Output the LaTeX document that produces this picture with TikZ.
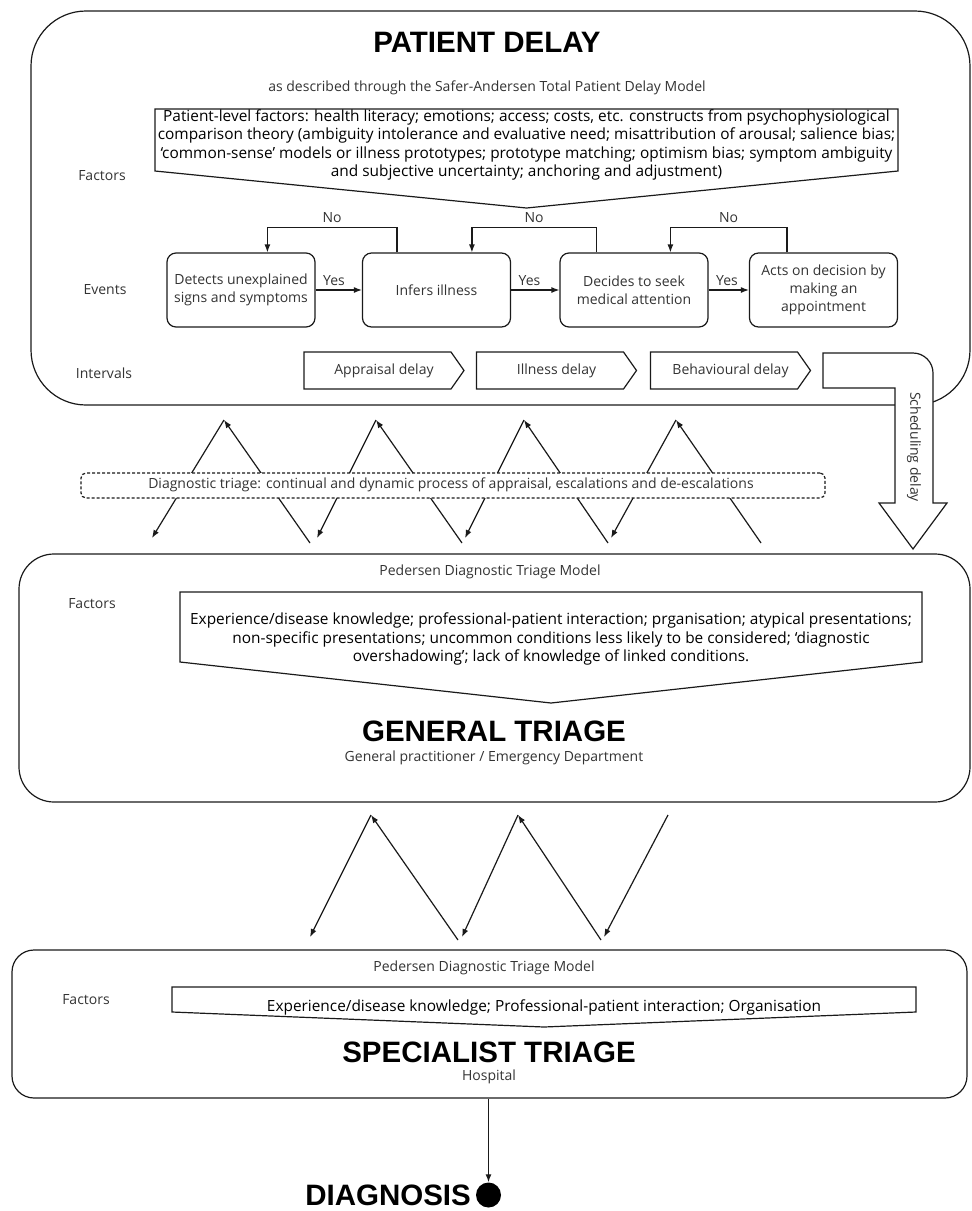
\documentclass[tikz,border=0pt]{standalone}
\usepackage{fontspec}
\setmainfont{Open Sans}
\newfontfamily\titlefont{Liberation Sans}
\usetikzlibrary{arrows.meta,calc}
\definecolor{linec}{HTML}{1A1A1A}
\definecolor{txtc}{HTML}{333333}
\tikzset{
  ln/.style={draw=linec, line width=1.2pt},
  arr/.style={ln, -{Latex[length=8pt,width=6pt]}},
  lbl/.style={font=\fontsize{14}{18}\selectfont, text=txtc, inner sep=0pt, align=center},
  ptext/.style={font=\fontsize{15.4}{18.5}\selectfont, text=black, inner sep=0pt, align=center},
  ttl/.style={font=\titlefont\bfseries\fontsize{29.5}{33}\selectfont, text=black, inner sep=0pt},
  geo/.style={draw=none, inner sep=0pt, outer sep=0pt},
  evbox/.style={ln, rounded corners=9pt, minimum width=148pt, minimum height=74pt, inner sep=0pt, align=center, font=\fontsize{14}{18}\selectfont, text=txtc},
  ivbox/.style={geo, minimum width=160pt, minimum height=37pt, font=\fontsize{14}{18}\selectfont, text=txtc},
  bigbox/.style={ln, inner sep=0pt}
}
\begin{document}
\begin{tikzpicture}[x=1pt,y=-1pt]
\useasboundingbox (0,0) rectangle (972,1211);

% ---------------- PATIENT DELAY ----------------
\node[bigbox, rounded corners=55pt, minimum width=939pt, minimum height=394pt] (top) at (500.5,208) {};
\node[ttl] (ttop) at (487,42) {PATIENT DELAY};
\node[lbl] (stop) at (487,88) {as described through the Safer-Andersen Total Patient Delay Model};

\node[geo, minimum width=743pt, minimum height=62pt] (pf1) at (526.5,140) {};
\coordinate (pf1tip) at (526.5,208);
\draw[ln] (pf1.north west) -- (pf1.north east) -- (pf1.south east) -- (pf1tip) -- (pf1.south west) -- cycle;
\node[ptext] (pf1t) at (526.5,145) {Patient-level factors: health literacy; emotions; access; costs, etc. constructs from psychophysiological\\comparison theory (ambiguity intolerance and evaluative need; misattribution of arousal; salience bias;\\‘common-sense’ models or illness prototypes; prototype matching; optimism bias; symptom ambiguity\\and subjective uncertainty; anchoring and adjustment)};

\node[lbl] (lf1) at (102,176) {Factors};
\node[lbl] (lev) at (105,290) {Events};
\node[lbl] (lin) at (104,373) {Intervals};

\node[evbox] (b1) at (241,290) {Detects unexplained\\signs and symptoms};
\node[evbox] (b2) at (436.5,290) {Infers illness};
\node[evbox] (b3) at (634,290) {Decides to seek\\medical attention};
\node[evbox] (b4) at (823.5,290) {Acts on decision by\\making an\\appointment};

\draw[arr] (b1) -- node[lbl, pos=0, anchor=south west, xshift=7pt, yshift=4pt] (y1) {Yes} (b2);
\draw[arr] (b2) -- node[lbl, pos=0, anchor=south west, xshift=7pt, yshift=4pt] (y2) {Yes} (b3);
\draw[arr] (b3) -- node[lbl, pos=0, anchor=south west, xshift=7pt, yshift=4pt] (y3) {Yes} (b4);

\draw[arr] ($(b2.north west)+(35,0)$) -- ++(0,-25) -- node[lbl, above=4pt] (n1) {No} ($(b1.north west)+(101,-25)$) -- ($(b1.north west)+(101,0)$);
\draw[arr] ($(b3.north west)+(37,0)$) -- ++(0,-25) -- node[lbl, above=4pt] (n2) {No} ($(b2.north west)+(110,-25)$) -- ($(b2.north west)+(110,0)$);
\draw[arr] ($(b4.north west)+(38,0)$) -- ++(0,-25) -- node[lbl, above=4pt] (n3) {No} ($(b3.north west)+(111,-25)$) -- ($(b3.north west)+(111,0)$);

\foreach \n/\cx/\t in {ap/384/Appraisal delay, il/556.5/Illness delay, bh/730.5/Behavioural delay}{
  \node[ivbox] (\n) at (\cx,370.5) {\t};
  \draw[ln] (\n.north west) -- ($(\n.north east)+(-13,0)$) -- (\n.east) -- ($(\n.south east)+(-13,0)$) -- (\n.south west) -- cycle;
}

% scheduling delay arrow
\draw[ln, fill=white] (823,353) -- (913,353) .. controls (924,353) and (933,362) .. (933,373) -- (933,503) -- (947,503) -- (913,549) -- (879,503) -- (895,503) -- (895,388) -- (823,388) -- cycle;
\node[lbl, rotate=-90] (sd) at (914,447) {Scheduling delay};

% ---------------- zigzag 1 ----------------
\foreach \i/\ax/\lx/\rx in {1/224/152/310, 2/376/317/462, 3/524/465/608, 4/676/611/761}{
  \coordinate (za\i) at (\ax,420);
  \coordinate (zl\i) at (\lx,538);
  \coordinate (zr\i) at (\rx,543);
  \draw[arr] (za\i) -- (zl\i);
  \draw[arr] (zr\i) -- (za\i);
}
\node[ln, dashed, dash pattern=on 3pt off 2pt, rounded corners=5pt, fill=white, minimum width=744pt, minimum height=25pt, inner sep=0pt] (dt) at (453,485.5) {};
\node[lbl] (dtt) at (451,485) {Diagnostic triage: continual and dynamic process of appraisal, escalations and de-escalations};

% ---------------- GENERAL TRIAGE ----------------
\node[bigbox, rounded corners=35pt, minimum width=951pt, minimum height=248pt] (gen) at (494.5,678) {};
\node[lbl] (sgen) at (490,572) {Pedersen Diagnostic Triage Model};
\node[lbl] (lf2) at (92,604) {Factors};
\node[geo, minimum width=742pt, minimum height=70pt] (pf2) at (551,627) {};
\coordinate (pf2tip) at (551,703);
\draw[ln] (pf2.north west) -- (pf2.north east) -- (pf2.south east) -- (pf2tip) -- (pf2.south west) -- cycle;
\node[ptext] (pf2t) at (551,639) {Experience/disease knowledge; professional-patient interaction; prganisation; atypical presentations;\\non-specific presentations; uncommon conditions less likely to be considered; ‘diagnostic\\overshadowing’; lack of knowledge of linked conditions.};
\node[ttl] (tgen) at (494,731) {GENERAL TRIAGE};
\node[lbl] (ggen) at (494,758) {General practitioner / Emergency Department};

% ---------------- zigzag 2 ----------------
\coordinate (zb1) at (371,815);
\coordinate (zb2) at (518,815);
\coordinate (zb3) at (668,815);
\coordinate (zc1) at (310,937);
\coordinate (zd1) at (458,940);
\coordinate (zc2) at (462,937);
\coordinate (zd2) at (601,940);
\coordinate (zc3) at (604,937);
\draw[arr] (zb1) -- (zc1);
\draw[arr] (zd1) -- (zb1);
\draw[arr] (zb2) -- (zc2);
\draw[arr] (zd2) -- (zb2);
\draw[arr] (zb3) -- (zc3);

% ---------------- SPECIALIST TRIAGE ----------------
\node[bigbox, rounded corners=22pt, minimum width=955pt, minimum height=148pt] (spec) at (489.5,1024) {};
\node[lbl] (sspec) at (484,968) {Pedersen Diagnostic Triage Model};
\node[lbl] (lf3) at (86,1000) {Factors};
\node[geo, minimum width=744pt, minimum height=25pt] (pf3) at (544,999.5) {};
\coordinate (pf3tip) at (544,1027);
\draw[ln] (pf3.north west) -- (pf3.north east) -- (pf3.south east) -- (pf3tip) -- (pf3.south west) -- cycle;
\node[ptext] (pf3t) at (544,1007) {Experience/disease knowledge; Professional-patient interaction; Organisation};
\node[ttl] (tspec) at (489,1052) {SPECIALIST TRIAGE};
\node[lbl] (hosp) at (489,1077) {Hospital};

% ---------------- DIAGNOSIS ----------------
\node[circle, fill=black, minimum size=25pt, inner sep=0pt] (dot) at (488.5,1195) {};
\node[ttl, anchor=base east, text depth=0pt] (tdiag) at (471,1205) {DIAGNOSIS};
\draw[arr] (dot |- spec.south) -- (dot.north);
\end{tikzpicture}
\end{document}
